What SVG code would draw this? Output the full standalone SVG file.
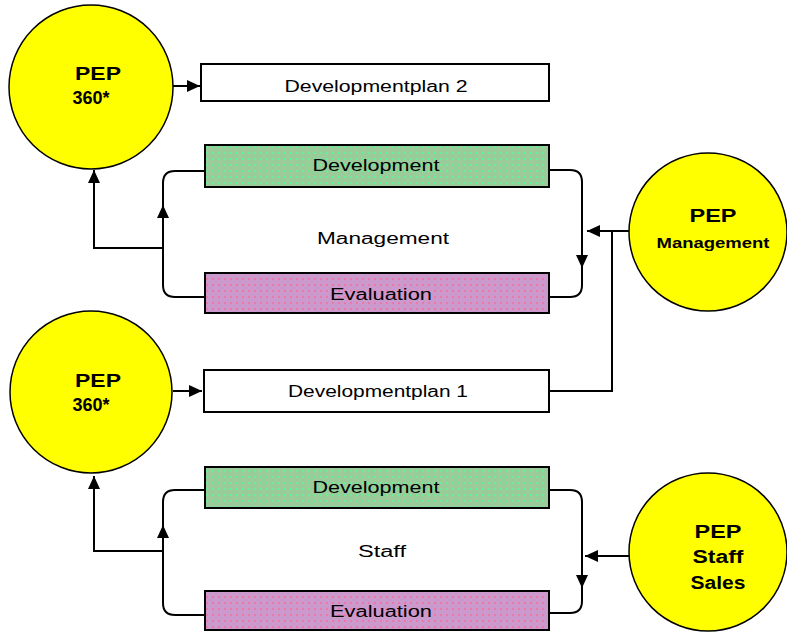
<svg xmlns="http://www.w3.org/2000/svg" width="787" height="632" viewBox="0 0 787 632">
<style>
.circ{fill:#ffff00;stroke:#000;stroke-width:1.5}
.box{stroke:#000;stroke-width:2}
.plan{fill:#fff}
.dev{fill:url(#gdots)}
.eva{fill:url(#pdots)}
.ln{fill:none;stroke:#000;stroke-width:2}
.t{font-family:"Liberation Sans",Arial,sans-serif;font-size:16px;fill:#000;text-anchor:middle}
.b{font-family:"Liberation Sans",Arial,sans-serif;font-weight:bold;font-size:18px;fill:#000;text-anchor:middle}
.bs{font-family:"Liberation Sans",Arial,sans-serif;font-weight:bold;font-size:14px;fill:#000;text-anchor:middle}
</style>
<defs>
<pattern id="gdots" width="6" height="6" patternUnits="userSpaceOnUse">
<rect width="6" height="6" fill="#99cc99"/>
<rect x="2" y="2" width="2" height="2" fill="#66ee99"/>
</pattern>
<pattern id="pdots" width="6" height="6" patternUnits="userSpaceOnUse">
<rect width="6" height="6" fill="#cc99cc"/>
<rect x="2" y="2" width="2" height="2" fill="#ee77aa"/>
</pattern>
<marker id="ah" markerUnits="userSpaceOnUse" markerWidth="14" markerHeight="12" refX="13" refY="6" orient="auto">
<path d="M0,0 L13,6 L0,12 Z" fill="#000"/>
</marker>
</defs>
<g id="connectors">
<path class="ln" d="M173,86 L200,86" marker-end="url(#ah)"/>
<path class="ln" d="M173,391 L202,391" marker-end="url(#ah)"/>
<path class="ln" d="M205,171 L175,171 Q163,171 163,183 L163,285 Q163,297 175,297 L205,297"/>
<path class="ln" d="M163,225 L163,205" marker-end="url(#ah)"/>
<path class="ln" d="M163,248 L94,248 L94,170" marker-end="url(#ah)"/>
<path class="ln" d="M549,170 L570,170 Q582,170 582,182 L582,285 Q582,297 570,297 L549,297"/>
<path class="ln" d="M582,245 L582,268" marker-end="url(#ah)"/>
<path class="ln" d="M629,231 L587,231" marker-end="url(#ah)"/>
<path class="ln" d="M549,391 L612,391 L612,231"/>
<path class="ln" d="M205,490 L175,490 Q163,490 163,502 L163,603 Q163,615 175,615 L205,615"/>
<path class="ln" d="M163,545 L163,525" marker-end="url(#ah)"/>
<path class="ln" d="M163,551 L94,551 L94,476" marker-end="url(#ah)"/>
<path class="ln" d="M549,490 L570,490 Q582,490 582,502 L582,601 Q582,613 570,613 L549,613"/>
<path class="ln" d="M582,565 L582,588" marker-end="url(#ah)"/>
<path class="ln" d="M630,556 L585,556" marker-end="url(#ah)"/>
</g>
<g id="pep360-top">
<circle class="circ" cx="91" cy="87" r="82"/>
<text class="b" x="98" y="80" textLength="46" lengthAdjust="spacingAndGlyphs">PEP</text>
<text class="b" x="91" y="104" textLength="37" lengthAdjust="spacingAndGlyphs">360*</text>
</g>
<g id="devplan2">
<rect class="box plan" x="201" y="64" width="348" height="37"/>
<text class="t" x="376" y="92" textLength="183" lengthAdjust="spacingAndGlyphs">Developmentplan 2</text>
</g>
<g id="dev-mgmt">
<rect class="box dev" x="205" y="145" width="344" height="42"/>
<text class="t" x="376" y="171" textLength="127" lengthAdjust="spacingAndGlyphs">Development</text>
</g>
<g id="label-mgmt">
<text class="t" x="383" y="244" textLength="132" lengthAdjust="spacingAndGlyphs">Management</text>
</g>
<g id="eval-mgmt">
<rect class="box eva" x="205" y="273" width="344" height="40"/>
<text class="t" x="381" y="300" textLength="102" lengthAdjust="spacingAndGlyphs">Evaluation</text>
</g>
<g id="pep-management">
<circle class="circ" cx="708" cy="232" r="79"/>
<text class="b" x="713" y="222" textLength="47" lengthAdjust="spacingAndGlyphs">PEP</text>
<text class="bs" x="713" y="248" textLength="113" lengthAdjust="spacingAndGlyphs">Management</text>
</g>
<g id="pep360-bottom">
<circle class="circ" cx="91" cy="392" r="81"/>
<text class="b" x="98" y="387" textLength="46" lengthAdjust="spacingAndGlyphs">PEP</text>
<text class="b" x="91" y="411" textLength="37" lengthAdjust="spacingAndGlyphs">360*</text>
</g>
<g id="devplan1">
<rect class="box plan" x="204" y="370" width="345" height="42"/>
<text class="t" x="378" y="397" textLength="180" lengthAdjust="spacingAndGlyphs">Developmentplan 1</text>
</g>
<g id="dev-staff">
<rect class="box dev" x="205" y="467" width="344" height="41"/>
<text class="t" x="376" y="493" textLength="127" lengthAdjust="spacingAndGlyphs">Development</text>
</g>
<g id="label-staff">
<text class="t" x="382" y="557" textLength="48" lengthAdjust="spacingAndGlyphs">Staff</text>
</g>
<g id="eval-staff">
<rect class="box eva" x="205" y="591" width="344" height="39"/>
<text class="t" x="381" y="617" textLength="102" lengthAdjust="spacingAndGlyphs">Evaluation</text>
</g>
<g id="pep-staff-sales">
<circle class="circ" cx="708" cy="552" r="79"/>
<text class="b" x="718" y="538" textLength="47" lengthAdjust="spacingAndGlyphs">PEP</text>
<text class="b" x="718" y="563" textLength="51" lengthAdjust="spacingAndGlyphs">Staff</text>
<text class="b" x="718" y="589" textLength="55" lengthAdjust="spacingAndGlyphs">Sales</text>
</g>
</svg>
